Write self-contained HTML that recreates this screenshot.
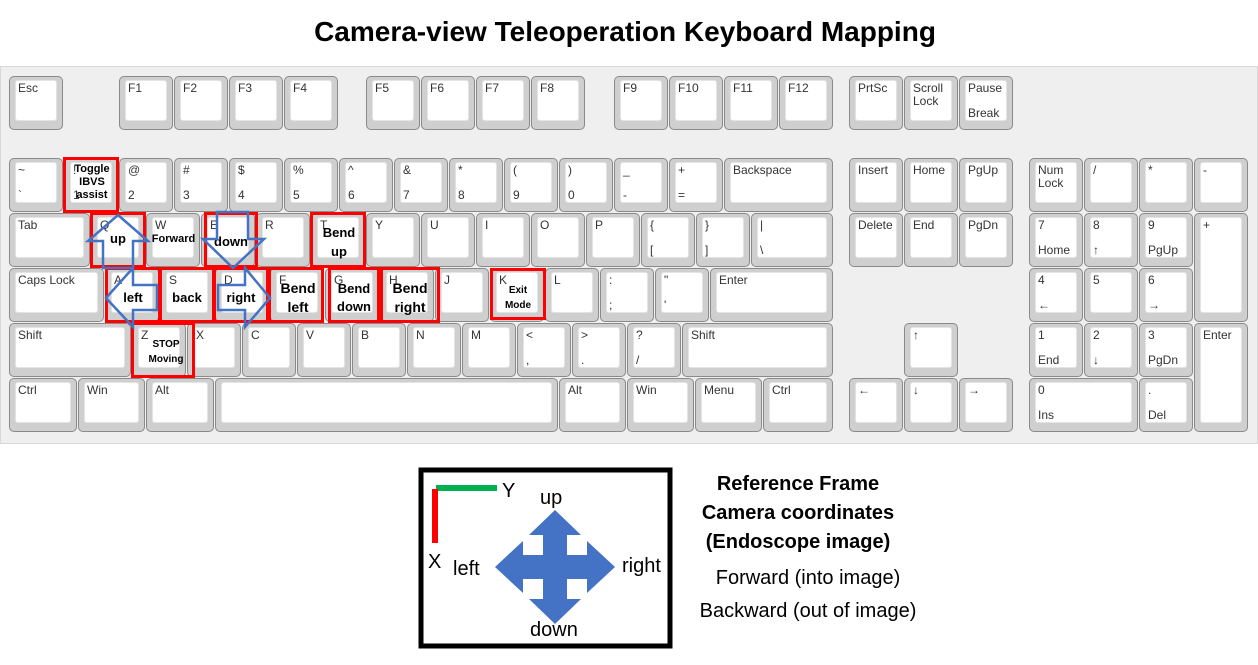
<!DOCTYPE html>
<html><head><meta charset="utf-8"><style>
body{margin:0;width:1258px;height:665px;background:#fff;position:relative;overflow:hidden;font-family:"Liberation Sans",sans-serif}
.kb{position:absolute;left:0;top:66px;width:1256px;height:376px;background:#efefef;border:1px solid #d8d8d8}
.key{position:absolute;box-sizing:border-box;background:#cfcfcf;border:1px solid #8a8a8a;border-radius:5px}
.key .in{position:absolute;left:5px;top:3px;right:5px;bottom:8px;background:#fff;border-radius:3px;border:1px solid #e4e4e4}
.key .t{position:absolute;left:8px;top:5px;font-size:12px;color:#333;line-height:13px}
.key .b{position:absolute;left:8px;top:30px;font-size:12px;color:#333;line-height:13px}
.red{position:absolute;box-sizing:border-box;border:3px solid #f00}
.lab{position:absolute;font-weight:bold;font-size:13px;text-align:center;color:#000;line-height:17px}
.txt{position:absolute;color:#000;white-space:nowrap}
</style></head><body>
<div class="txt" style="left:0;width:1250px;text-align:center;top:16px;font-size:28px;font-weight:bold">Camera-view Teleoperation Keyboard Mapping</div>
<div class="kb"></div>
<div id="keys"></div>
<svg width="1258" height="665" style="position:absolute;left:0;top:0">
<g fill="none" stroke="#4472c4" stroke-width="2.5">
<polygon points="118,215 148,241 133,241 133,268 103,268 103,241 88,241"/>
<polygon points="233,268 264,239 248,239 248,212 217,212 217,239 203,239"/>
<polygon points="106,298 133,268 133,285 157,285 157,310 133,310 133,327"/>
<polygon points="270,298 245,268 245,285 218,285 218,310 245,310 245,327"/>
</g>
<rect x="421" y="470" width="249" height="176" fill="none" stroke="#000" stroke-width="5"/>
<rect x="436" y="485" width="61" height="6" fill="#00b050"/>
<rect x="432" y="489" width="6" height="54" fill="#f00"/>
<polygon fill="#4472c4" transform="translate(555,567)" points="0,-57 26,-32 12,-32 12,-12 32,-12 32,-26 60,0 32,26 32,12 12,12 12,32 26,32 0,57 -26,32 -12,32 -12,12 -32,12 -32,26 -60,0 -32,-26 -32,-12 -12,-12 -12,-32 -26,-32"/>
<g font-family="Liberation Sans, sans-serif" font-size="20" fill="#000">
<text x="502" y="497">Y</text><text x="428" y="568">X</text>
<text x="540" y="504">up</text><text x="453" y="575">left</text>
<text x="622" y="572">right</text><text x="530" y="636">down</text>
</g>
</svg>
<div class="txt" style="left:690px;width:216px;text-align:center;top:470px;font-size:20px;font-weight:bold;line-height:29px">Reference Frame<br>Camera coordinates<br>(Endoscope image)</div>
<div class="txt" style="left:690px;width:236px;text-align:center;top:567px;font-size:20px">Forward (into image)</div>
<div class="txt" style="left:690px;width:236px;text-align:center;top:600px;font-size:20px">Backward (out of image)</div>
<script>
const U=55;
const keys=[
[9,76,54,'Esc',''],[119,76,54,'F1',''],[174,76,54,'F2',''],[229,76,54,'F3',''],[284,76,54,'F4',''],
[366,76,54,'F5',''],[421,76,54,'F6',''],[476,76,54,'F7',''],[531,76,54,'F8',''],
[614,76,54,'F9',''],[669,76,54,'F10',''],[724,76,54,'F11',''],[779,76,54,'F12',''],
[849,76,54,'PrtSc',''],[904,76,54,'Scroll<br>Lock',''],[959,76,54,'Pause','Break'],
[9,158,54,'~','`'],[64,158,54,'!','1'],[119,158,54,'@','2'],[174,158,54,'#','3'],[229,158,54,'$','4'],[284,158,54,'%','5'],[339,158,54,'^','6'],[394,158,54,'&amp;','7'],[449,158,54,'*','8'],[504,158,54,'(','9'],[559,158,54,')','0'],[614,158,54,'_','-'],[669,158,54,'+','='],[724,158,109,'Backspace',''],
[849,158,54,'Insert',''],[904,158,54,'Home',''],[959,158,54,'PgUp',''],
[1029,158,54,'Num<br>Lock',''],[1084,158,54,'/',''],[1139,158,54,'*',''],[1194,158,54,'-',''],
[9,213,81,'Tab',''],[91,213,54,'Q',''],[146,213,54,'W',''],[201,213,54,'E',''],[256,213,54,'R',''],[311,213,54,'T',''],[366,213,54,'Y',''],[421,213,54,'U',''],[476,213,54,'I',''],[531,213,54,'O',''],[586,213,54,'P',''],[641,213,54,'{','['],[696,213,54,'}',']'],[751,213,82,'|','\\'],
[849,213,54,'Delete',''],[904,213,54,'End',''],[959,213,54,'PgDn',''],
[1029,213,54,'7','Home'],[1084,213,54,'8','↑'],[1139,213,54,'9','PgUp'],[1194,213,54,'+','',109],
[9,268,95,'Caps Lock',''],[105,268,54,'A',''],[160,268,54,'S',''],[215,268,54,'D',''],[270,268,54,'F',''],[325,268,54,'G',''],[380,268,54,'H',''],[435,268,54,'J',''],[490,268,54,'K',''],[545,268,54,'L',''],[600,268,54,':',';'],[655,268,54,'"',"'"],[710,268,123,'Enter',''],
[1029,268,54,'4','←'],[1084,268,54,'5',''],[1139,268,54,'6','→'],
[9,323,122,'Shift',''],[132,323,54,'Z',''],[187,323,54,'X',''],[242,323,54,'C',''],[297,323,54,'V',''],[352,323,54,'B',''],[407,323,54,'N',''],[462,323,54,'M',''],[517,323,54,'&lt;',','],[572,323,54,'&gt;','.'],[627,323,54,'?','/'],[682,323,151,'Shift',''],
[904,323,54,'↑',''],
[1029,323,54,'1','End'],[1084,323,54,'2','↓'],[1139,323,54,'3','PgDn'],[1194,323,54,'Enter','',109],
[9,378,68,'Ctrl',''],[78,378,67,'Win',''],[146,378,68,'Alt',''],[215,378,343,'',''],[559,378,67,'Alt',''],[627,378,67,'Win',''],[695,378,67,'Menu',''],[763,378,70,'Ctrl',''],
[849,378,54,'←',''],[904,378,54,'↓',''],[959,378,54,'→',''],
[1029,378,109,'0','Ins'],[1139,378,54,'.','Del']
];
const host=document.getElementById('keys');
keys.forEach(k=>{
 const d=document.createElement('div');
 d.className='key';
 
 
 d.style.cssText=`left:${k[0]}px;top:${k[1]}px;width:${k[2]}px;height:${k[5]||54}px`;
 d.innerHTML=`<div class="in"></div><div class="t">${k[3]}</div><div class="b">${k[4]}</div>`;
 host.appendChild(d);
});
const reds=[[63,157,56,56],[90,212,56,56],[204,212,54,56],[310,212,56,56],[105,267,56,56],[159,267,56,56],[213,267,56,56],[268,267,56,56],[328,267,52,56],[380,267,60,56],[490,268,56,52],[131,322,64,56]];
reds.forEach(r=>{const d=document.createElement('div');d.className='red';
 
 
 d.style.cssText=`left:${r[0]}px;top:${r[1]}px;width:${r[2]}px;height:${r[3]}px`;host.appendChild(d);});
const labs=[[66,163,52,'Toggle<br>IBVS<br>assist',11,13],[93,230,50,'up',13,17],[146,233,55,'Forward',11,13],[204,233,54,'down',13,17],[313,223,52,'Bend<br>up',13,19],[107,289,52,'left',13,17],[161,289,52,'back',13,17],[215,289,52,'right',13,17],[272,279,52,'Bend<br>left',14,19],[330,280,48,'Bend<br>down',13,18],[382,279,56,'Bend<br>right',14,19],[492,283,52,'Exit<br>Mode',10,15],[136,337,60,'STOP<br>Moving',10,15]];
labs.forEach(l=>{const d=document.createElement('div');d.className='lab';
 
 
 d.style.cssText=`left:${l[0]}px;top:${l[1]}px;width:${l[2]}px;font-size:${l[4]}px;line-height:${l[5]}px`;d.innerHTML=l[3];host.appendChild(d);});
</script>
</body></html>
